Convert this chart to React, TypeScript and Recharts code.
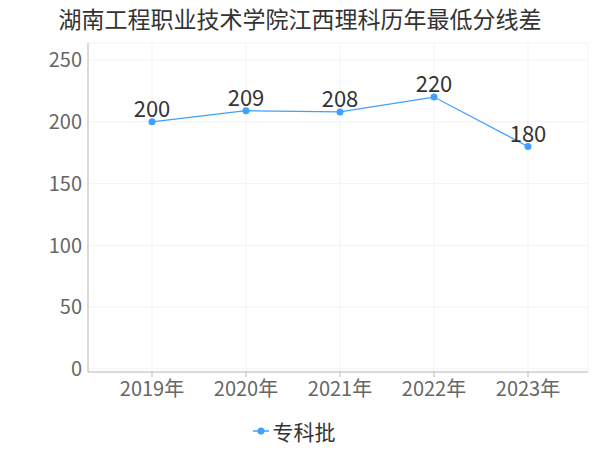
import React from 'react';
import { LineChart, Line, XAxis, YAxis, CartesianGrid, Legend, LabelList } from 'recharts';

const years = ['2019年', '2020年', '2021年', '2022年', '2023年'];
const scores = [200, 209, 208, 220, 180];
const yTicks = [0, 50, 100, 150, 200, 250];

const FONT = '"Noto Sans CJK SC", "Noto Sans", sans-serif';
const BLUE = '#3fa0ff';

const data = years.map((year, i) => ({ year, score: scores[i] }));

// legend: short line with a dot in the middle, then the series name
const renderLegend = (props: any) => {
  const items = props.payload || [];
  return (
    <div style={{ display: 'flex', justifyContent: 'center', alignItems: 'center', height: 30 }}>
      {items.map((it: any) => (
        <div key={it.value} style={{ display: 'flex', alignItems: 'center' }}>
          <svg width={16} height={10} style={{ marginRight: 4 }}>
            <line x1={0} y1={5} x2={16} y2={5} stroke={BLUE} strokeWidth={1.5} />
            <circle cx={8} cy={5} r={3.5} fill={BLUE} />
          </svg>
          <span style={{ color: '#333', fontSize: 21, fontFamily: FONT, lineHeight: '30px' }}>{it.value}</span>
        </div>
      ))}
    </div>
  );
};

export default function App() {
  return (
    <div style={{ position: 'absolute', left: 0, top: 0, width: 600, height: 450, background: '#fff', fontFamily: FONT }}>
      <div style={{ position: 'absolute', top: 2, left: 0, width: 600, textAlign: 'center', fontSize: 23, color: '#333', lineHeight: '32px' }}>
        湖南工程职业技术学院江西理科历年最低分线差
      </div>
      <LineChart width={600} height={450} data={data} margin={{ top: 43, right: 12, left: 0, bottom: 4 }}>
        <CartesianGrid stroke="#f3f3f3" />
        <XAxis
          dataKey="year"
          height={44}
          padding={{ left: 64, right: 60 }}
          stroke="#bbb"
          tickSize={5}
          tickMargin={5}
          tick={{ fill: '#666', fontSize: 20, fontFamily: FONT }}
        />
        <YAxis
          width={88}
          domain={[0, 250]}
          ticks={yTicks}
          padding={{ top: 17, bottom: 3 }}
          stroke="#bbb"
          tickSize={0}
          tickMargin={6}
          tick={{ fill: '#666', fontSize: 20, fontFamily: FONT }}
        />
        <Legend verticalAlign="bottom" wrapperStyle={{ height: 30 }} content={renderLegend} />
        <Line
          name="专科批"
          dataKey="score"
          stroke={BLUE}
          strokeWidth={1.2}
          dot={{ r: 3.5, fill: BLUE, stroke: BLUE, strokeWidth: 0 }}
          isAnimationActive={false}
        >
          <LabelList dataKey="score" position="top" offset={5} fill="#333" fontSize={22} fontFamily={FONT} />
        </Line>
      </LineChart>
    </div>
  );
}
